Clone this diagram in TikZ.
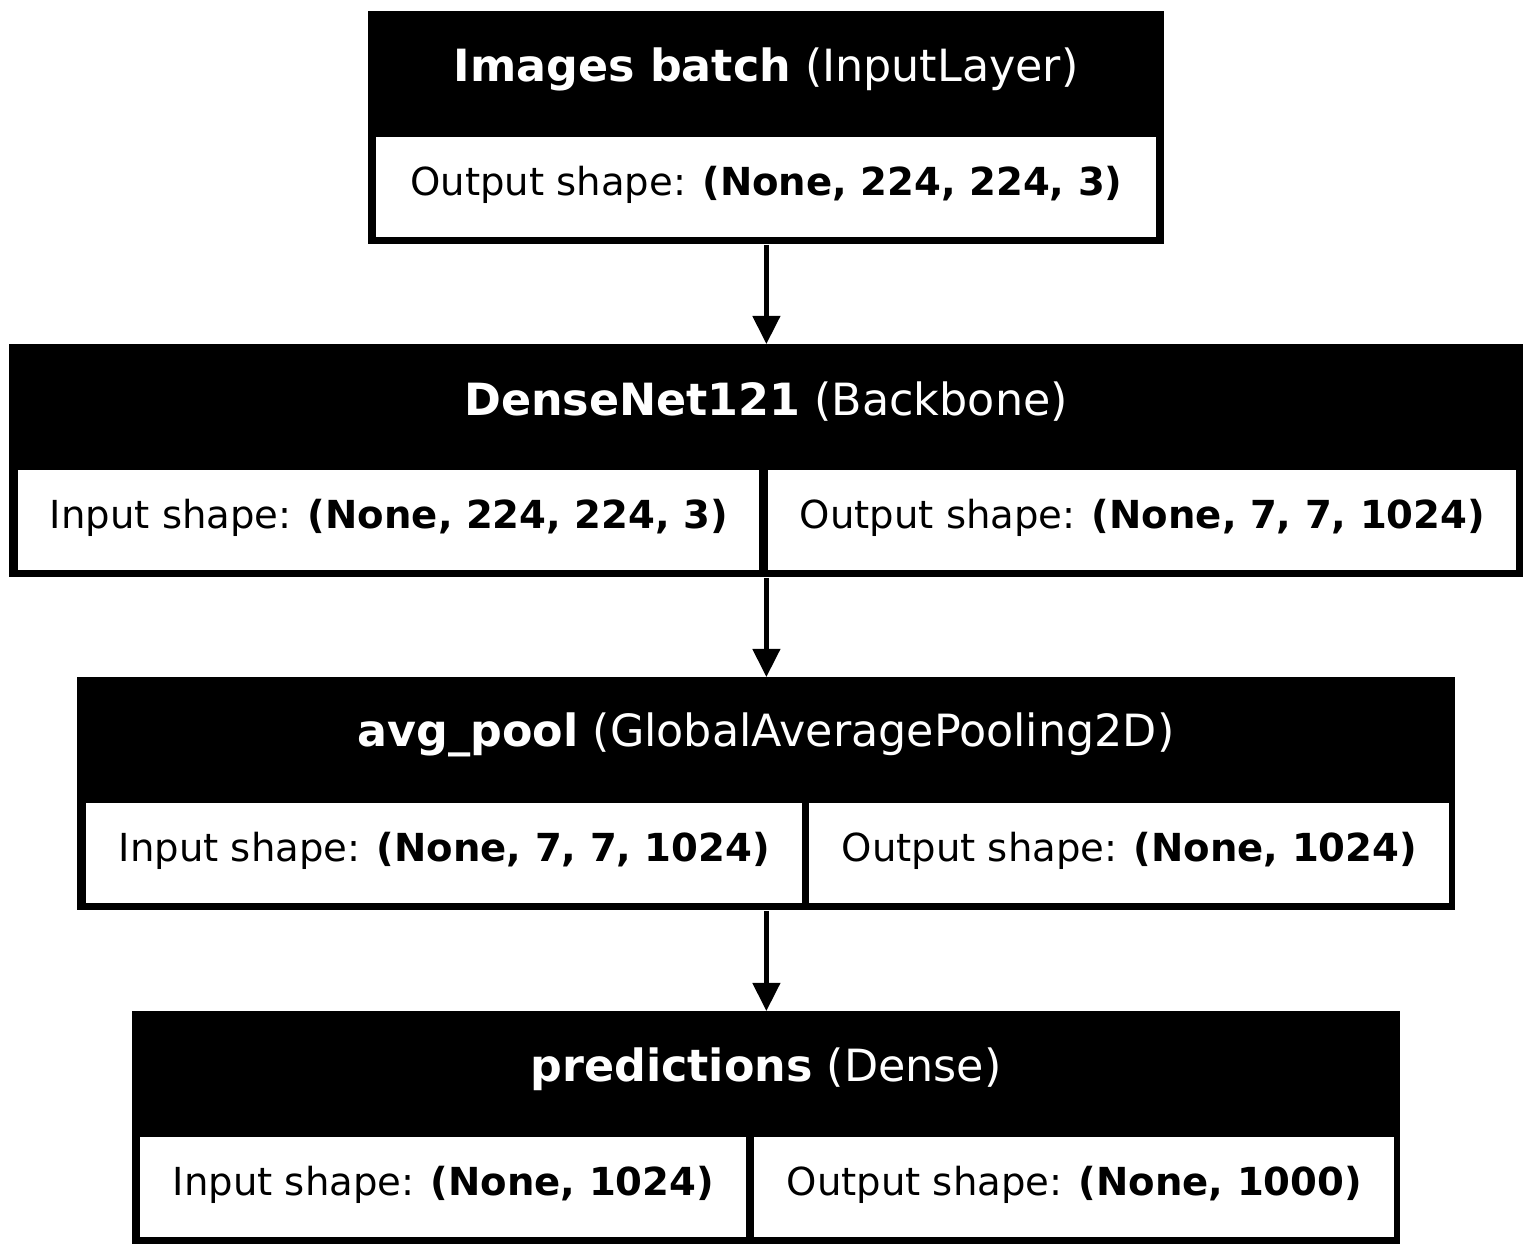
\documentclass[tikz,border=0pt]{standalone}
\usepackage{fontspec}
\setmainfont{DejaVu Sans}
\usetikzlibrary{arrows.meta}

\tikzset{
	layerbox/.style={rectangle,fill=black,inner sep=0pt,minimum height=116.5pt,anchor=north west},
	cellbox/.style={rectangle,fill=white,inner sep=0pt,minimum height=50pt,anchor=north west,
		text height=14pt,text depth=6pt,font=\fontsize{19.3}{23}\selectfont},
	headtext/.style={text=white,inner sep=0pt,font=\fontsize{22.2}{26}\selectfont},
	link/.style={line width=2.2pt,-{Triangle[length=14pt,width=13.5pt]}}
}

\begin{document}
\begin{tikzpicture}[x=0.5pt,y=-0.5pt]
		\useasboundingbox (0,0) rectangle (1533,1256);
%		layers
		\node[layerbox,minimum width=398pt] (images) at (368,11) {};
		\node[layerbox,minimum width=757pt] (densenet) at (9,344) {};
		\node[layerbox,minimum width=689pt] (avgpool) at (77,677) {};
		\node[layerbox,minimum width=634pt] (preds) at (132,1011) {};

		\node[headtext] (imagesTitle) at (766,69) {\textbf{Images batch} (InputLayer)};
		\node[headtext] (densenetTitle) at (766,402) {\textbf{DenseNet121} (Backbone)};
		\node[headtext] (avgpoolTitle) at (766,735) {\textbf{avg\_pool} (GlobalAveragePooling2D)};
		\node[headtext] (predsTitle) at (766,1069) {\textbf{predictions} (Dense)};

		\node[cellbox,minimum width=390pt] (imagesOut) at (376,137) {Output shape: \textbf{(None, 224, 224, 3)}};
		\node[cellbox,minimum width=370.5pt] (densenetIn) at (18,470) {Input shape: \textbf{(None, 224, 224, 3)}};
		\node[cellbox,minimum width=374pt] (densenetOut) at (768,470) {Output shape: \textbf{(None, 7, 7, 1024)}};
		\node[cellbox,minimum width=358pt] (avgpoolIn) at (86,803) {Input shape: \textbf{(None, 7, 7, 1024)}};
		\node[cellbox,minimum width=320pt] (avgpoolOut) at (809,803) {Output shape: \textbf{(None, 1024)}};
		\node[cellbox,minimum width=303pt] (predsIn) at (140,1137) {Input shape: \textbf{(None, 1024)}};
		\node[cellbox,minimum width=320pt] (predsOut) at (754,1137) {Output shape: \textbf{(None, 1000)}};

		\draw[link] (images.south) -- (densenet.north);
		\draw[link] (densenet.south) -- (avgpool.north);
		\draw[link] (avgpool.south) -- (preds.north);
	\end{tikzpicture}
\end{document}
